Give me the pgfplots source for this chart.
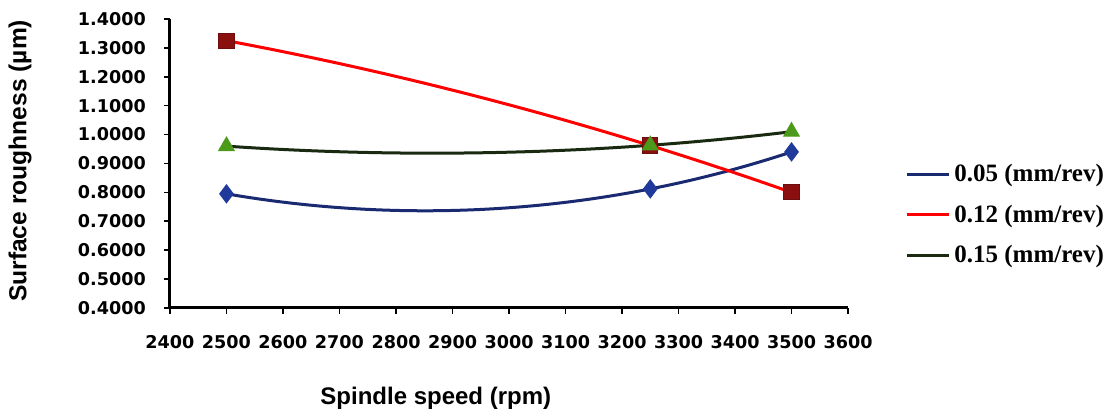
\documentclass[border=0pt]{standalone}
\usepackage{pgfplots}
\pgfplotsset{compat=1.18}
\usetikzlibrary{hobby}
\usepackage{fontspec}
\setmainfont{Liberation Sans}
\newfontfamily\tickfont{DejaVu Sans}
\newfontfamily\legfont{Liberation Serif}
\definecolor{bline}{HTML}{1A2A70}
\definecolor{bmark}{HTML}{1F3A9A}
\definecolor{rline}{HTML}{FF0000}
\definecolor{rmark}{HTML}{8A1010}
\definecolor{gline}{HTML}{1A2A10}
\definecolor{gmark}{HTML}{4C9A1A}
\begin{document}
\begin{tikzpicture}
\begin{axis}[
  scale only axis,
  width=339pt, height=144.5pt,
  xmin=2400, xmax=3600, ymin=0.4, ymax=1.4,
  axis lines=left, axis line style={line width=1.5pt, -},
  xtick={2400,2500,...,3600},
  ytick={0.4,0.5,...,1.4},
  tick align=outside, major tick length=3pt,
  tick style={line width=0.8pt, black},
  /pgf/number format/assume math mode=true,
  xticklabel style={font=\tickfont\bfseries\fontsize{8.8}{10}\selectfont, yshift=-7pt},
  yticklabel style={font=\tickfont\bfseries\fontsize{8.8}{10}\selectfont, xshift=-5.5pt,
    /pgf/number format/.cd, fixed, fixed zerofill, precision=4},
  x tick label style={/pgf/number format/.cd, 1000 sep={}},
  xlabel={Spindle speed (rpm)},
  ylabel={Surface roughness (\textmu m)},
  every axis x label/.style={at={(axis description cs:0.392,-0.311)}, anchor=center, font=\bfseries\fontsize{12}{14}\selectfont},
  every axis y label/.style={at={(axis description cs:-0.2212,0.509)}, rotate=90, anchor=center, font=\bfseries\fontsize{12.3}{14}\selectfont},
  clip=false,
  legend style={at={(axis description cs:1.084,0.322)}, anchor=west, draw=none, fill=none,
    font=\legfont\bfseries\fontsize{12.5}{14}\selectfont, row sep=6pt, inner sep=0pt},
  legend cell align=left,
  legend image code/.code={\draw[#1] (0pt,0pt) -- (21pt,0pt);},
]
\addlegendimage{bline, line width=1.5pt}
\addlegendentry{0.05 (mm/rev)}
\addlegendimage{rline, line width=1.5pt}
\addlegendentry{0.12 (mm/rev)}
\addlegendimage{gline, line width=1.5pt}
\addlegendentry{0.15 (mm/rev)}

\addplot[forget plot, bline, line width=1.5pt, hobby, mark=diamond*, mark size=4.5pt,
  mark options={fill=bmark, draw=bmark, line width=0.5pt}]
  coordinates {(2500,0.795) (3250,0.812) (3500,0.940)};
\addplot[forget plot, rline, line width=1.5pt, hobby, mark=square*, mark size=3.8pt,
  mark options={fill=rmark, draw=rmark!80!black, line width=0.5pt}]
  coordinates {(2500,1.325) (3250,0.962) (3500,0.800)};
\addplot[forget plot, gline, line width=1.5pt, hobby, mark=triangle*, mark size=4.5pt,
  mark options={fill=gmark, draw=gmark, line width=0.5pt}]
  coordinates {(2500,0.960) (3250,0.963) (3500,1.010)};

\path (axis description cs:-0.2507,-0.3633) rectangle (axis description cs:1.3982,1.0657);
\end{axis}
\end{tikzpicture}
\end{document}
